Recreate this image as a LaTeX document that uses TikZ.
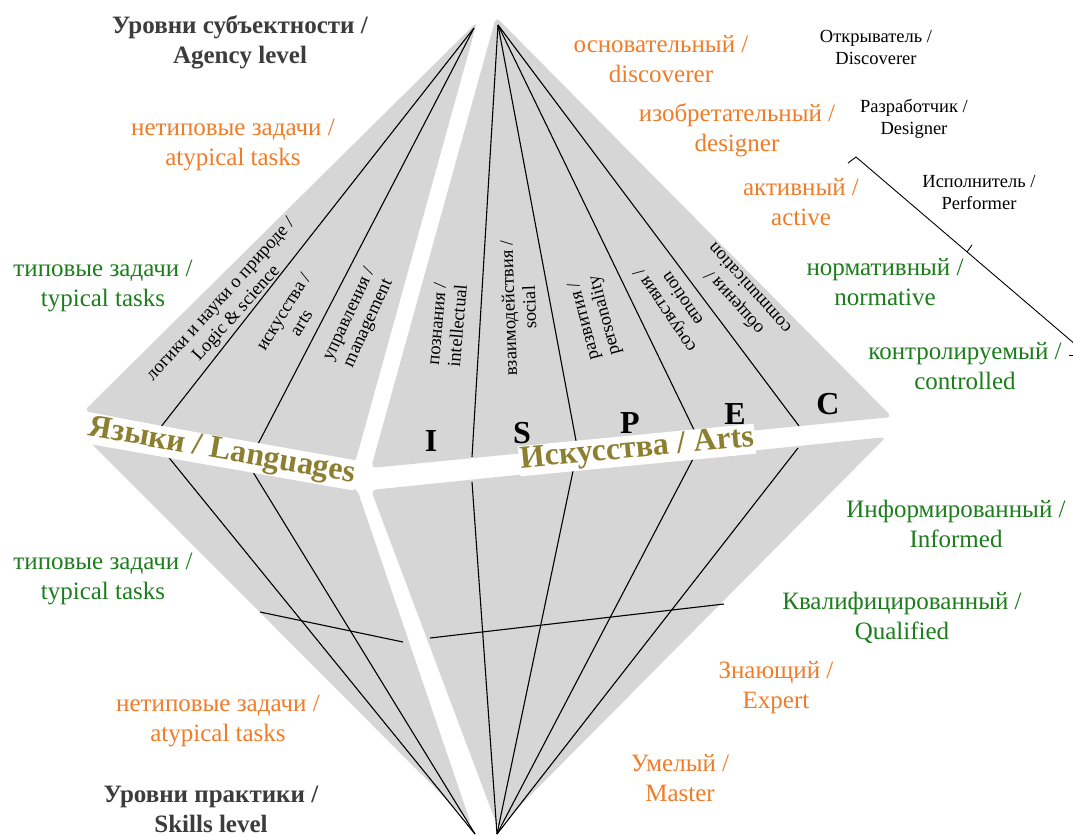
\documentclass[tikz,border=0pt]{standalone}
\usepackage{fontspec}
\setmainfont{Liberation Serif}
\definecolor{gfill}{RGB}{214,214,214}
\definecolor{orng}{RGB}{240,124,40}
\definecolor{grn}{RGB}{28,125,28}
\definecolor{olivetxt}{RGB}{140,128,48}
\definecolor{ttl}{RGB}{60,60,60}
\begin{document}
\begin{tikzpicture}[x=1pt,y=-1pt,
  gpoly/.style={fill=gfill, rounded corners=5pt},
  ln/.style={line width=1.1pt, black},
  lvl/.style={align=center, inner sep=0pt, font=\fontsize{25}{30}\selectfont},
  orl/.style={lvl, text=orng},
  grl/.style={lvl, text=grn},
  ttlb/.style={align=center, inner sep=0pt, text=ttl, font=\fontsize{25}{30}\selectfont\bfseries},
  role/.style={align=center, inner sep=0pt, font=\fontsize{18.5}{22}\selectfont},
  sect/.style={align=center, inner sep=0pt, font=\fontsize{18.5}{21}\selectfont},
  bandtxt/.style={inner sep=1pt, fill=white, text=olivetxt, font=\fontsize{32}{34}\selectfont\bfseries},
  letter/.style={inner sep=0pt, font=\fontsize{32}{34}\selectfont\bfseries}]
\useasboundingbox (0,0) rectangle (1073,835);
\fill[white] (0,0) rectangle (1073,835);

% gray quadrants
\fill[gpoly] (477,22) -- (84,411) -- (355,463) -- cycle;
\fill[gpoly] (496,17) -- (892,417) -- (371,468) -- cycle;
\fill[gpoly] (86,438) -- (357,489) -- (471,824) -- cycle;
\fill[gpoly] (371,490) -- (886,437) -- (498,828) -- cycle;

% apexes
\coordinate (aTL) at (474,28);
\coordinate (aTR) at (498,25);
\coordinate (aBL) at (475,834);
\coordinate (aBR) at (497,834);

% top-left lines
\coordinate (tl1) at (160,428);
\coordinate (tl2) at (257,446);
\draw[ln] (aTL) -- (tl1);
\draw[ln] (aTL) -- (tl2);
% bottom-left lines
\coordinate (bl1) at (166,454);
\coordinate (bl2) at (253,472);
\draw[ln] (bl1) -- (aBL);
\draw[ln] (bl2) -- (aBL);
% top-right lines
\coordinate (tr1) at (472,457);
\coordinate (tr2) at (577,446);
\coordinate (tr3) at (697,436);
\coordinate (tr4) at (799,426);
\foreach \p in {tr1,tr2,tr3,tr4} \draw[ln] (aTR) -- (\p);
% bottom-right lines
\coordinate (br1) at (472,482);
\coordinate (br2) at (573,471);
\coordinate (br3) at (693,459);
\coordinate (br4) at (798,448);
\foreach \p in {br1,br2,br3,br4} \draw[ln] (\p) -- (aBR);

% cross lines
\coordinate (cl1) at (260,612);
\coordinate (cl2) at (403,642);
\coordinate (cr1) at (430,638);
\coordinate (cr2) at (724,604);
\draw[ln] (cl1) -- (cl2);
\draw[ln] (cr1) -- (cr2);

% bracket on the right
\coordinate (bk0) at (848,163);
\coordinate (bk1) at (856,157);
\coordinate (bk2) at (1076,345);
\coordinate (tk0) at (967,252);
\coordinate (tk1) at (972,245);
\coordinate (ds0) at (1069,355);
\coordinate (ds1) at (1073,355);
\draw[line width=0.9pt] (bk0) -- (bk1) -- (bk2);
\draw[line width=0.9pt] (tk0) -- (tk1);
\draw[line width=0.9pt] (ds0) -- (ds1);

% band labels
\node[bandtxt, rotate=-10] (lang) at (222,452) {Языки / Languages};
\node[bandtxt, rotate=5.5] (arts) at (637,450) {Искусства / Arts};

% letters
\node[letter] (lI) at (431,441) {I};
\node[letter] (lS) at (522,433) {S};
\node[letter] (lP) at (630,423) {P};
\node[letter] (lE) at (735,414) {E};
\node[letter] (lC) at (828,404) {C};

% sector labels
\node[sect, rotate=48] (s1) at (229,307) {логики и науки о природе /\\ Logic \& science};
\node[sect, rotate=58] (s2) at (292,317) {искусства /\\ arts};
\node[sect, rotate=65] (s3) at (359,319) {управления /\\ management};
\node[sect, rotate=85] (s4) at (447,325) {познания /\\ intellectual};
\node[sect, rotate=92] (s5) at (519,308) {взаимодействия /\\ social};
\node[sect, rotate=105] (s6) at (595,318) {развития /\\ personality};
\node[sect, rotate=124] (s7) at (673,305) {сочувствия /\\ emotion};
\node[sect, rotate=132] (s8) at (741,296) {общения /\\ communication};

% titles
\node[ttlb] (tTop) at (240,42) {Уровни субъектности /\\ Agency level};
\node[ttlb] (tBot) at (211,809) {Уровни практики /\\ Skills level};

% left labels
\node[orl] (la1) at (233,145) {нетиповые задачи /\\ atypical tasks};
\node[grl] (lt1) at (103,286) {типовые задачи /\\ typical tasks};
\node[grl] (lt2) at (103,579) {типовые задачи /\\ typical tasks};
\node[orl] (la2) at (218,721) {нетиповые задачи /\\ atypical tasks};

% right labels
\node[orl] (r1) at (661,59) {основательный /\\ discoverer};
\node[orl] (r2) at (737,130) {изобретательный /\\ designer};
\node[orl] (r3) at (801,202) {активный /\\ active};
\node[grl] (r4) at (885,282) {нормативный /\\ normative};
\node[grl] (r5) at (965,366) {контролируемый /\\ controlled};
\node[grl] (r6) at (956,524) {Информированный /\\ Informed};
\node[grl] (r7) at (902,618) {Квалифицированный /\\ Qualified};
\node[orl] (r8) at (776,688) {Знающий /\\ Expert};
\node[orl] (r9) at (680,778) {Умелый /\\ Master};

% role labels
\node[role] (o1) at (876,47) {Открыватель /\\ Discoverer};
\node[role] (o2) at (914,119) {Разработчик /\\ Designer};
\node[role] (o3) at (979,192) {Исполнитель /\\ Performer};
\end{tikzpicture}
\end{document}
